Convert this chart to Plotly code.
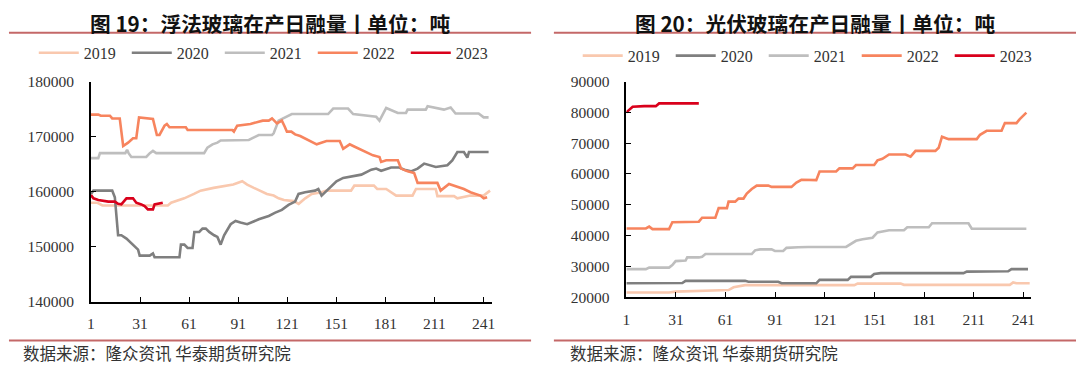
import plotly.graph_objects as go

# ---------------- data: float glass daily melt (left, tonnes) ----------------
float_2019_day = [1, 5, 8, 48, 50, 58, 64, 68, 76, 82, 88, 93.5, 96.5, 100.6, 104.6, 108.6, 112.7, 115.7,
                  119, 125, 128, 132, 136, 142, 145, 160, 162, 174, 176, 181.5, 187.6, 197.6, 199.7,
                  211.8, 212.8, 223, 225, 229, 233, 241, 245]
float_2019_val = [158000, 158000, 157500, 157500, 158000, 158800, 159600, 160200, 160700, 161000, 161300,
                  161900, 161300, 160700, 160200, 159600, 159300, 158800, 158500, 158300, 157800, 158800,
                  159600, 159900, 160200, 160200, 161100, 161100, 160500, 160500, 159300, 159300, 160500,
                  160500, 159200, 159200, 158800, 159000, 159300, 159300, 160200]

float_2020_day = [1, 2.5, 14, 15.6, 17.6, 19.6, 22.7, 24.7, 27.8, 29.8, 30.8, 36.9, 38.9, 39.9, 55.1, 56,
                  58.1, 60.1, 63.1, 64.2, 67.2, 69.2, 71.2, 73.3, 76.3, 78.3, 80.3, 82.4, 86.4, 89.4, 92.4,
                  96.5, 103.6, 109.7, 113.7, 117.7, 121.8, 125.8, 127.9, 131.9, 138, 140, 142, 145.1, 148.1,
                  151.1, 155.2, 160.2, 166.3, 172.4, 175.4, 178.4, 184.5, 189.5, 192.6, 196.6, 200.7,
                  204.7, 208.8, 211.8, 218.9, 221.9, 225, 229, 231.1, 232.1, 244.1]
float_2020_val = [159600, 160200, 160200, 159000, 152100, 152100, 151500, 150900, 150100, 149500, 148400,
                  148400, 148800, 148100, 148100, 150400, 150400, 149800, 149800, 152700, 152700, 153300,
                  153300, 152700, 152100, 151800, 150400, 152100, 154100, 154700, 154400, 154100, 155000,
                  155600, 156200, 156700, 157600, 158200, 159600, 159900, 160200, 160500, 159300, 160200,
                  161100, 161900, 162500, 162800, 163100, 164000, 164200, 163800, 164400, 164400, 164000,
                  163700, 164200, 165100, 164800, 164500, 164800, 165700, 167200, 167200, 166200, 167200,
                  167200]

float_2021_day = [1, 5.5, 6.5, 22, 23.1, 24, 25.7, 34.8, 37, 38.9, 40.9, 70.2, 72.2, 75.3, 78.3, 80.3, 97.5,
                  99.5, 103.6, 111.7, 112.7, 115.7, 123.8, 146, 149.1, 158.2, 161.3, 175.4, 177.4, 181.5,
                  188.6, 193.6, 194.6, 205.7, 206.8, 216.8, 220.9, 223.9, 238, 241.1, 244.1]
float_2021_val = [166100, 166100, 167000, 167000, 167600, 167000, 166300, 166300, 167000, 167400, 167000,
                  167000, 168000, 168600, 168900, 169300, 169400, 169700, 170300, 170300, 170600, 172900,
                  174100, 174100, 175100, 175100, 174100, 173600, 172900, 175200, 174300, 174300, 174900,
                  174900, 175500, 174900, 175300, 174200, 174200, 173500, 173500]

float_2022_day = [1, 5.5, 7, 12.6, 14, 18.6, 20.7, 23.7, 26.7, 28.7, 30.4, 38.9, 41.3, 42.9, 46, 47.4, 49,
                  59, 60.1, 87.4, 88.4, 90.4, 98.5, 103, 106, 109.7, 111.7, 114.7, 117.7, 119.5, 120.8,
                  123.5, 125.8, 128.9, 132.9, 136, 139, 145, 153.1, 155.2, 159.2, 161.3, 167.3, 173.4,
                  177.4, 178.4, 181.5, 188.6, 190.6, 194.6, 198.6, 200.7, 212.8, 214.8, 219.9, 225, 229,
                  233, 239.1, 241.1, 243.2]
float_2022_val = [174000, 174000, 173800, 173800, 173300, 173300, 168300, 168900, 169700, 169700, 173500,
                  173200, 170300, 170300, 172000, 172300, 171700, 171700, 171200, 171200, 170900, 172000,
                  172300, 172600, 172900, 172900, 173300, 172400, 172900, 171800, 170900, 170900, 170400,
                  170100, 169500, 169000, 168600, 169200, 169200, 167800, 168600, 168300, 167500, 166600,
                  166300, 165400, 165700, 165700, 164200, 163700, 163400, 161600, 161600, 160200, 161400,
                  160900, 160500, 159900, 159300, 158800, 159000]

float_2023_day = [1, 2.5, 5.5, 11.6, 15.6, 17.6, 19.6, 22.7, 26.7, 28.7, 31.8, 33.8, 35.8, 38.9, 39.9, 44.9]
float_2023_val = [159400, 158800, 158500, 158200, 158200, 157800, 157700, 158800, 158800, 158000, 157700,
                  157400, 156800, 156800, 157700, 158000]

# ---------------- data: PV glass daily melt (right, tonnes) ----------------
pv_2019_day = [1, 26.8, 30.8, 43.8, 62.8, 65.8, 72.8, 138.8, 140.8, 166.8, 168.8, 232.8, 234.8, 236.8, 244.8]
pv_2019_val = [21500, 21500, 21800, 22000, 22300, 23200, 23900, 23900, 24400, 24400, 24000, 24000, 24800,
               24500, 24500]

pv_2020_day = [1, 34.8, 36.8, 72.8, 74.8, 92.8, 94.8, 115.8, 117.8, 134.8, 136.8, 148.8, 150.8, 154.8,
               204.8, 206.8, 231.8, 233.8, 243.8]
pv_2020_val = [24500, 24600, 25300, 25300, 25000, 25000, 24500, 24500, 25600, 25600, 26600, 26600, 27500,
               27800, 27800, 28300, 28400, 29100, 29100]

pv_2021_day = [1, 12.8, 14.8, 26.8, 28.8, 30.8, 36.8, 37.8, 44.8, 46.8, 48.8, 76.8, 78.8, 81.8, 88.8, 90.8,
               95.8, 97.8, 104.8, 110.8, 133.8, 136.8, 139.8, 143.8, 149.8, 152.8, 159.8, 168.8, 170.8,
               183.8, 185.8, 207.8, 209.8, 242.8]
pv_2021_val = [29100, 29100, 29600, 29600, 30400, 31700, 31900, 32900, 32900, 33100, 34000, 34000, 35200,
               35500, 35500, 35000, 35000, 36000, 36200, 36300, 36300, 37300, 38300, 38800, 39300, 41000,
               41700, 41700, 42700, 42700, 44000, 44000, 42200, 42200]

pv_2022_day = [1, 12.8, 14.8, 16.8, 26.8, 28.8, 44.8, 46.8, 54.8, 56.8, 61.8, 62.8, 66.8, 68.8, 71.8, 73.8,
               76.8, 79.8, 86.8, 88.8, 100.8, 103.8, 106.8, 115.8, 117.8, 127.8, 129.8, 137.8, 139.8, 150.8,
               152.8, 155.8, 159.8, 169.8, 172.8, 175.8, 187.8, 189.8, 191.8, 195.8, 212.8, 214.8, 218.8,
               227.8, 229.8, 236.8, 238.8, 240.8, 242.8]
pv_2022_val = [42300, 42300, 42900, 42100, 42100, 44300, 44500, 45800, 45800, 48900, 48900, 51000, 51000,
               52000, 52000, 53600, 55100, 56200, 56200, 55800, 55800, 57200, 58100, 58000, 60800, 60800,
               61800, 61800, 62900, 62900, 64400, 64900, 66300, 66300, 65600, 67500, 67500, 68500, 72100,
               71300, 71300, 72700, 74000, 74000, 76500, 76500, 77800, 78900, 79900]

pv_2023_day = [1, 2.8, 4.8, 11.8, 18.8, 20.8, 44.8]
pv_2023_val = [80000, 81000, 81800, 82000, 82000, 82900, 82900]

years = ["2019", "2020", "2021", "2022", "2023"]
x_ticks = [1, 31, 61, 91, 121, 151, 181, 211, 241]

left_title = "图 19：浮法玻璃在产日融量丨单位：吨"
right_title = "图 20：光伏玻璃在产日融量丨单位：吨"
source_text = "数据来源：隆众资讯 华泰期货研究院"

# ---------------- styles ----------------
colors = {"2019": "#F9C8AE", "2020": "#7F7F7F", "2021": "#BEBEBE", "2022": "#F7845E", "2023": "#D9001B"}
W, H = 1080, 371

left_series = {"2019": (float_2019_day, float_2019_val), "2020": (float_2020_day, float_2020_val),
               "2021": (float_2021_day, float_2021_val), "2022": (float_2022_day, float_2022_val),
               "2023": (float_2023_day, float_2023_val)}
right_series = {"2019": (pv_2019_day, pv_2019_val), "2020": (pv_2020_day, pv_2020_val),
                "2021": (pv_2021_day, pv_2021_val), "2022": (pv_2022_day, pv_2022_val),
                "2023": (pv_2023_day, pv_2023_val)}

fig = go.Figure()
for y in years:
    d, v = left_series[y]
    fig.add_trace(go.Scatter(x=d, y=v, mode="lines", name=y, legend="legend",
                             line=dict(color=colors[y], width=2.6), xaxis="x", yaxis="y",
                             hoverinfo="skip"))
for y in years:
    d, v = right_series[y]
    fig.add_trace(go.Scatter(x=d, y=v, mode="lines", name=y, legend="legend2",
                             line=dict(color=colors[y], width=2.6), xaxis="x2", yaxis="y2",
                             hoverinfo="skip"))

tickfont = dict(family="Liberation Serif", size=15.5, color="#333333")
axis_common = dict(showline=True, linecolor="#000000", linewidth=1.5, showgrid=False, zeroline=False,
                   ticks="inside", ticklen=5, tickcolor="#000000", tickwidth=1.2, tickfont=tickfont,
                   fixedrange=True)


def py(px):
    """pixel row -> paper fraction"""
    return 1 - px / H


def pxx(px):
    """pixel column -> paper fraction"""
    return px / W


legend_common = dict(orientation="h", xanchor="left", yanchor="middle", bgcolor="rgba(0,0,0,0)",
                     font=dict(family="Liberation Serif", size=16, color="#333333"),
                     itemwidth=40, entrywidth=38, entrywidthmode="pixels",
                     itemclick=False, itemdoubleclick=False)

fig.update_layout(
    width=W, height=H, autosize=False, margin=dict(l=0, r=0, t=0, b=0),
    paper_bgcolor="white", plot_bgcolor="white",
    showlegend=True,
    xaxis=dict(domain=[pxx(87.6), pxx(492)], range=[1, 246.4], tickvals=x_ticks, anchor="y",
               ticklabelstandoff=7, **axis_common),
    yaxis=dict(domain=[py(307), py(76)], range=[140000, 180000], dtick=10000, tickformat="d",
               anchor="x", ticklabelstandoff=12, **axis_common),
    xaxis2=dict(domain=[pxx(627), pxx(1035)], range=[1, 245.8], tickvals=x_ticks, anchor="y2",
                ticklabelstandoff=7, **axis_common),
    yaxis2=dict(domain=[py(302), py(76)], range=[20000, 90000], dtick=10000, tickformat="d",
                anchor="x2", ticklabelstandoff=12, **axis_common),
    legend=dict(x=pxx(30), y=py(46), **legend_common),
    legend2=dict(x=pxx(578), y=py(49), **legend_common),
)

line_col = "#C46868"
for x0, x1 in [(5, 531), (554, 1080)]:
    for yy in (24.8, 347.5):
        fig.add_shape(type="line", xref="paper", yref="paper", x0=pxx(x0), x1=pxx(x1),
                      y0=py(yy), y1=py(yy), line=dict(color=line_col, width=2))

title_font = dict(family="Noto Sans CJK SC", size=20.7, color="#111111")
fig.add_annotation(text="<b>" + left_title + "</b>", x=pxx(268), y=py(14.5), xref="paper", yref="paper",
                   xanchor="center", yanchor="middle", showarrow=False, font=title_font)
fig.add_annotation(text="<b>" + right_title + "</b>", x=pxx(817), y=py(14.5), xref="paper", yref="paper",
                   xanchor="center", yanchor="middle", showarrow=False, font=title_font)
src_font = dict(family="Noto Sans CJK SC", size=16.5, color="#333333")
fig.add_annotation(text=source_text, x=pxx(17), y=py(360), xref="paper", yref="paper",
                   xanchor="left", yanchor="middle", showarrow=False, font=src_font)
fig.add_annotation(text=source_text, x=pxx(568), y=py(360), xref="paper", yref="paper",
                   xanchor="left", yanchor="middle", showarrow=False, font=src_font)

page_fix = (
    "document.documentElement.style.margin='0';document.documentElement.style.padding='0';"
    "document.body.style.margin='0';document.body.style.padding='0';"
    "document.body.style.overflow='hidden';"
    "var gd=document.getElementById('{plot_id}');"
    "gd.style.position='fixed';gd.style.top='0px';gd.style.left='0px';"
)
fig.write_html("out.html", config={"displayModeBar": False, "responsive": False}, post_script=page_fix)
